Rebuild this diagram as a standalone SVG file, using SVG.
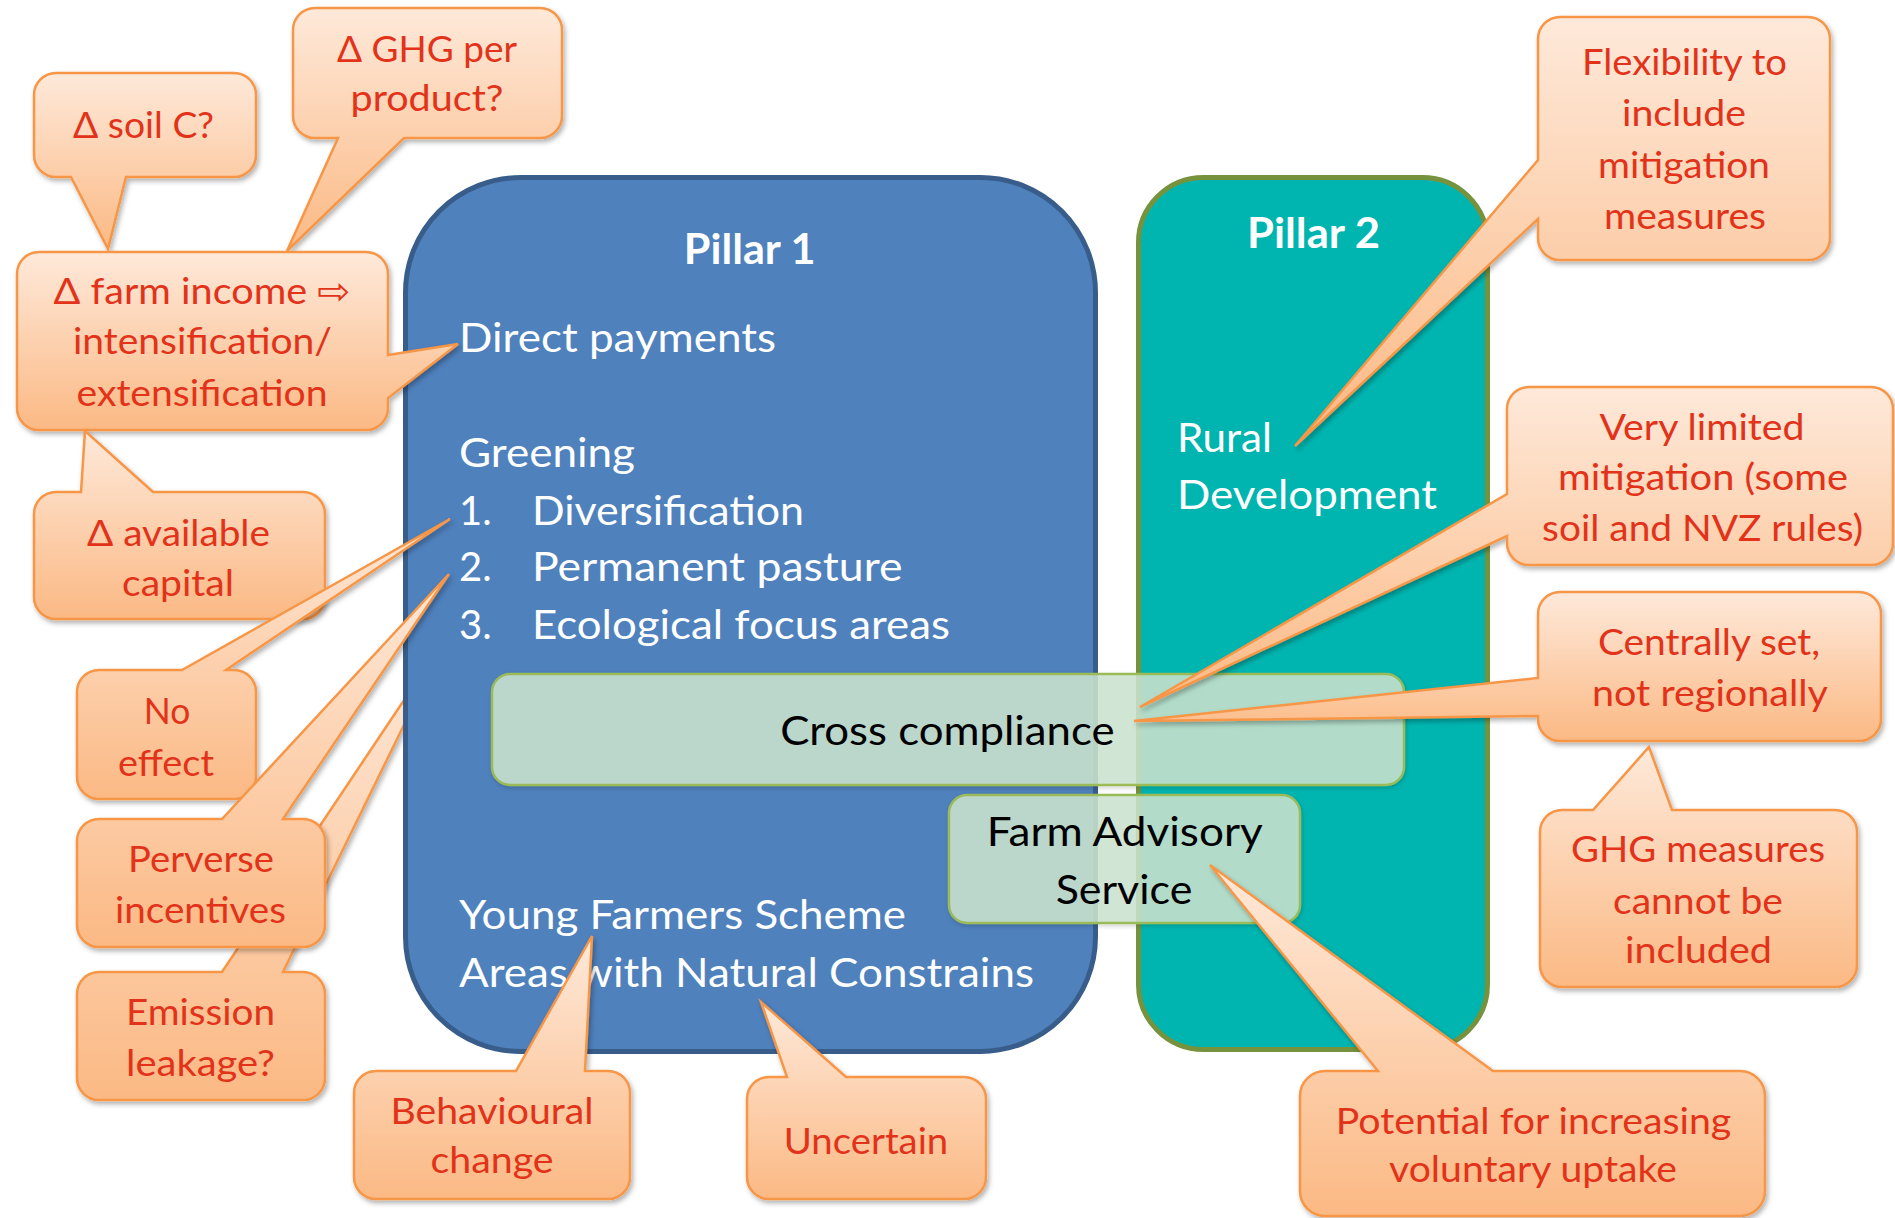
<svg xmlns="http://www.w3.org/2000/svg" width="1895" height="1218" viewBox="0 0 1895 1218">
  <defs>
    <linearGradient id="cg" x1="0" y1="0" x2="0" y2="1">
      <stop offset="0" stop-color="#FEE9DA"/>
      <stop offset="1" stop-color="#FBB984"/>
    </linearGradient>
    <filter id="sh" x="-10%" y="-10%" width="125%" height="130%">
      <feDropShadow dx="2" dy="3" stdDeviation="2.5" flood-color="#000" flood-opacity="0.3"/>
    </filter>
    <filter id="shl" x="-5%" y="-10%" width="110%" height="130%">
      <feDropShadow dx="1" dy="2" stdDeviation="2" flood-color="#000" flood-opacity="0.18"/>
    </filter>
    <style>
      .co { fill: url(#cg); stroke: #F79646; stroke-width: 2.5; stroke-linejoin: miter; filter: url(#sh); }
      .ct { font-family: Lato, "Open Sans", "DejaVu Sans", sans-serif; font-size: 37.5px; fill: #E2331A; text-anchor: middle; }
      .pt { font-family: Lato, "Open Sans", "DejaVu Sans", sans-serif; font-size: 40px; fill: #FFFFFF; }
      .ph { font-family: Lato, "Open Sans", "DejaVu Sans", sans-serif; font-size: 42px; font-weight: bold; fill: #FFFFFF; text-anchor: middle; }
      .bt { font-family: Lato, "Open Sans", "DejaVu Sans", sans-serif; font-size: 41px; fill: #000000; text-anchor: middle; }
      .pl1 { fill: #4F81BD; stroke: #385D8A; stroke-width: 5; }
      .pl2 { fill: #00B5B0; stroke: #76923C; stroke-width: 5; }
      .gb { fill: #CCE4CF; fill-opacity: 0.86; stroke: #9BBB59; stroke-width: 2.5; filter: url(#shl); }
    </style>
  </defs>

  <rect width="1895" height="1218" fill="#FFFFFF"/>

  <!-- callout whose tail runs underneath Pillar 1 -->
  <g id="emission-leakage">
    <path class="co" d="M99,972 H222 L449,633 L283,972 H303 A22,22 0 0 1 325,994 V1078 A22,22 0 0 1 303,1100 H99 A22,22 0 0 1 77,1078 V994 A22,22 0 0 1 99,972 Z"/>
    <text class="ct" x="200.5" y="1025" textLength="149" lengthAdjust="spacingAndGlyphs">Emission</text>
    <text class="ct" x="200.5" y="1076" textLength="149" lengthAdjust="spacingAndGlyphs">leakage?</text>
  </g>

  <!-- the two pillars -->
  <g id="pillar-1">
    <rect class="pl1" x="405.5" y="177.5" width="690" height="874" rx="115" ry="115"/>
  </g>
  <g id="pillar-2">
    <rect class="pl2" x="1138.5" y="177.5" width="349" height="872" rx="65" ry="65"/>
  </g>

  <!-- shared instruments spanning both pillars -->
  <g id="cross-compliance">
    <rect class="gb" x="492" y="674" width="912" height="111" rx="18" ry="18"/>
    <text class="bt" x="947.4" y="745" textLength="334.5" lengthAdjust="spacingAndGlyphs">Cross compliance</text>
  </g>
  <g id="farm-advisory-service">
    <rect class="gb" x="949" y="795" width="351" height="128" rx="18" ry="18"/>
    <text class="bt" x="1124.7" y="845.6" textLength="276" lengthAdjust="spacingAndGlyphs">Farm Advisory</text>
    <text class="bt" x="1124" y="903.6" textLength="136.7" lengthAdjust="spacingAndGlyphs">Service</text>
  </g>

  <!-- pillar contents -->
  <g id="pillar-1-text">
    <text class="ph" x="749.7" y="263.5" textLength="131.7" lengthAdjust="spacingAndGlyphs">Pillar 1</text>
    <text class="pt" x="459" y="352.4" textLength="317" lengthAdjust="spacingAndGlyphs">Direct payments</text>
    <text class="pt" x="459" y="466.8" textLength="176" lengthAdjust="spacingAndGlyphs">Greening</text>
    <text class="pt" x="459" y="524.8">1.</text>
    <text class="pt" x="532" y="524.8" textLength="272" lengthAdjust="spacingAndGlyphs">Diversification</text>
    <text class="pt" x="459" y="581">2.</text>
    <text class="pt" x="532" y="581" textLength="370.5" lengthAdjust="spacingAndGlyphs">Permanent pasture</text>
    <text class="pt" x="459" y="639.3">3.</text>
    <text class="pt" x="532" y="639.3" textLength="418" lengthAdjust="spacingAndGlyphs">Ecological focus areas</text>
    <text class="pt" x="459" y="929" textLength="447" lengthAdjust="spacingAndGlyphs">Young Farmers Scheme</text>
    <text class="pt" x="459" y="987" textLength="575" lengthAdjust="spacingAndGlyphs">Areas with Natural Constrains</text>
  </g>
  <g id="pillar-2-text">
    <text class="ph" x="1313.5" y="248" textLength="133" lengthAdjust="spacingAndGlyphs">Pillar 2</text>
    <text class="pt" x="1177" y="451.6" textLength="95" lengthAdjust="spacingAndGlyphs">Rural</text>
    <text class="pt" x="1177" y="509" textLength="260" lengthAdjust="spacingAndGlyphs">Development</text>
  </g>

  <!-- comment callouts (tails drawn as part of each shape) -->
  <g id="soil-c">
    <path class="co" d="M56,73 H234 A22,22 0 0 1 256,95 V155 A22,22 0 0 1 234,177 H126 L108,249 L71,177 H56 A22,22 0 0 1 34,155 V95 A22,22 0 0 1 56,73 Z"/>
    <text class="ct" x="143.5" y="138" textLength="141" lengthAdjust="spacingAndGlyphs">Δ soil C?</text>
  </g>
  <g id="ghg-per-product">
    <path class="co" d="M315,8 H540 A22,22 0 0 1 562,30 V116 A22,22 0 0 1 540,138 H404 L287,251 L338,138 H315 A22,22 0 0 1 293,116 V30 A22,22 0 0 1 315,8 Z"/>
    <text class="ct" x="427" y="62" textLength="180" lengthAdjust="spacingAndGlyphs">Δ GHG per</text>
    <text class="ct" x="427" y="111" textLength="153" lengthAdjust="spacingAndGlyphs">product?</text>
  </g>
  <g id="farm-income">
    <path class="co" d="M39,252 H366 A22,22 0 0 1 388,274 V355 L458,344 L388,398 V408 A22,22 0 0 1 366,430 H39 A22,22 0 0 1 17,408 V274 A22,22 0 0 1 39,252 Z"/>
    <text class="ct" x="202" y="304" textLength="297" lengthAdjust="spacingAndGlyphs">Δ farm income ⇨</text>
    <text class="ct" x="202.5" y="354" textLength="259" lengthAdjust="spacingAndGlyphs">intensification/</text>
    <text class="ct" x="202" y="406" textLength="251" lengthAdjust="spacingAndGlyphs">extensification</text>
  </g>
  <g id="available-capital">
    <path class="co" d="M56,492 H81 L85,431 L153,492 H303 A22,22 0 0 1 325,514 V597 A22,22 0 0 1 303,619 H56 A22,22 0 0 1 34,597 V514 A22,22 0 0 1 56,492 Z"/>
    <text class="ct" x="178.5" y="546" textLength="183" lengthAdjust="spacingAndGlyphs">Δ available</text>
    <text class="ct" x="178" y="596" textLength="112" lengthAdjust="spacingAndGlyphs">capital</text>
  </g>
  <g id="no-effect">
    <path class="co" d="M99,670 H182 L450,519 L226,670 H234 A22,22 0 0 1 256,692 V777 A22,22 0 0 1 234,799 H99 A22,22 0 0 1 77,777 V692 A22,22 0 0 1 99,670 Z"/>
    <text class="ct" x="167" y="724" textLength="46.5" lengthAdjust="spacingAndGlyphs">No</text>
    <text class="ct" x="166" y="776" textLength="96" lengthAdjust="spacingAndGlyphs">effect</text>
  </g>
  <g id="perverse-incentives">
    <path class="co" d="M99,819 H222 L449,574 L283,819 H303 A22,22 0 0 1 325,841 V925 A22,22 0 0 1 303,947 H99 A22,22 0 0 1 77,925 V841 A22,22 0 0 1 99,819 Z"/>
    <text class="ct" x="201" y="872" textLength="146" lengthAdjust="spacingAndGlyphs">Perverse</text>
    <text class="ct" x="200.5" y="923" textLength="171" lengthAdjust="spacingAndGlyphs">incentives</text>
  </g>
  <g id="behavioural-change">
    <path class="co" d="M376,1071 H516 L592,936 L585,1071 H608 A22,22 0 0 1 630,1093 V1177 A22,22 0 0 1 608,1199 H376 A22,22 0 0 1 354,1177 V1093 A22,22 0 0 1 376,1071 Z"/>
    <text class="ct" x="492" y="1124" textLength="203" lengthAdjust="spacingAndGlyphs">Behavioural</text>
    <text class="ct" x="492" y="1173" textLength="123" lengthAdjust="spacingAndGlyphs">change</text>
  </g>
  <g id="uncertain">
    <path class="co" d="M769,1077 H787 L761,1002 L846,1077 H964 A22,22 0 0 1 986,1099 V1177 A22,22 0 0 1 964,1199 H769 A22,22 0 0 1 747,1177 V1099 A22,22 0 0 1 769,1077 Z"/>
    <text class="ct" x="866" y="1153.6" textLength="164.5" lengthAdjust="spacingAndGlyphs">Uncertain</text>
  </g>
  <g id="flexibility">
    <path class="co" d="M1560,17 H1808 A22,22 0 0 1 1830,39 V238 A22,22 0 0 1 1808,260 H1560 A22,22 0 0 1 1538,238 V219 L1295,446 L1538,160 V39 A22,22 0 0 1 1560,17 Z"/>
    <text class="ct" x="1684.5" y="74.6" textLength="205" lengthAdjust="spacingAndGlyphs">Flexibility to</text>
    <text class="ct" x="1684" y="126" textLength="124" lengthAdjust="spacingAndGlyphs">include</text>
    <text class="ct" x="1684" y="178" textLength="172" lengthAdjust="spacingAndGlyphs">mitigation</text>
    <text class="ct" x="1685" y="229" textLength="162" lengthAdjust="spacingAndGlyphs">measures</text>
  </g>
  <g id="very-limited">
    <path class="co" d="M1529,387 H1871 A22,22 0 0 1 1893,409 V543 A22,22 0 0 1 1871,565 H1529 A22,22 0 0 1 1507,543 V536 L1140,707 L1507,494 V409 A22,22 0 0 1 1529,387 Z"/>
    <text class="ct" x="1702" y="440" textLength="205" lengthAdjust="spacingAndGlyphs">Very limited</text>
    <text class="ct" x="1703" y="490" textLength="290" lengthAdjust="spacingAndGlyphs">mitigation (some</text>
    <text class="ct" x="1702.6" y="540.5" textLength="321" lengthAdjust="spacingAndGlyphs">soil and NVZ rules)</text>
  </g>
  <g id="centrally-set">
    <path class="co" d="M1560,592 H1859 A22,22 0 0 1 1881,614 V719 A22,22 0 0 1 1859,741 H1560 A22,22 0 0 1 1538,719 V716 L1134,721 L1538,678 V614 A22,22 0 0 1 1560,592 Z"/>
    <text class="ct" x="1709" y="655" textLength="222" lengthAdjust="spacingAndGlyphs">Centrally set,</text>
    <text class="ct" x="1710" y="706" textLength="236" lengthAdjust="spacingAndGlyphs">not regionally</text>
  </g>
  <g id="ghg-measures">
    <path class="co" d="M1562,810 H1593 L1649,747 L1672,810 H1835 A22,22 0 0 1 1857,832 V965 A22,22 0 0 1 1835,987 H1562 A22,22 0 0 1 1540,965 V832 A22,22 0 0 1 1562,810 Z"/>
    <text class="ct" x="1698" y="861.5" textLength="254" lengthAdjust="spacingAndGlyphs">GHG measures</text>
    <text class="ct" x="1698" y="913.6" textLength="170" lengthAdjust="spacingAndGlyphs">cannot be</text>
    <text class="ct" x="1698.5" y="963" textLength="147" lengthAdjust="spacingAndGlyphs">included</text>
  </g>
  <g id="voluntary-uptake">
    <path class="co" d="M1325,1071 H1378 L1210,865 L1493,1071 H1740 A25,25 0 0 1 1765,1096 V1191 A25,25 0 0 1 1740,1216 H1325 A25,25 0 0 1 1300,1191 V1096 A25,25 0 0 1 1325,1071 Z"/>
    <text class="ct" x="1533.5" y="1134" textLength="395.5" lengthAdjust="spacingAndGlyphs">Potential for increasing</text>
    <text class="ct" x="1533" y="1182" textLength="288" lengthAdjust="spacingAndGlyphs">voluntary uptake</text>
  </g>
</svg>
